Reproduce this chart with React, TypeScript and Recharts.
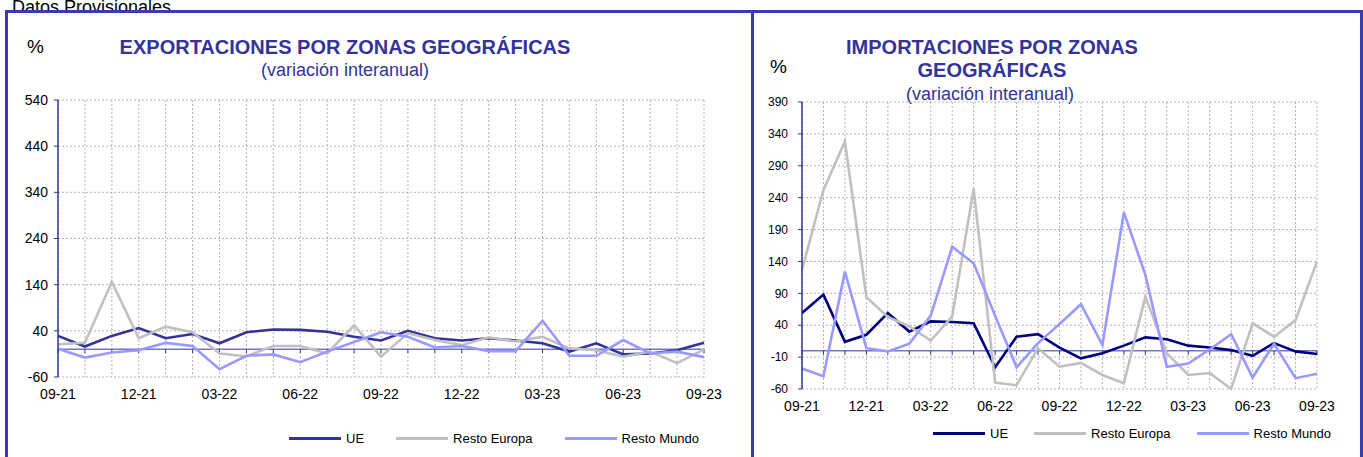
import { LineChart, Line, XAxis, YAxis, CartesianGrid, ReferenceLine } from "recharts";

const FONT = '"Liberation Sans", Arial, sans-serif';

const months = [
  "09-21", "10-21", "11-21", "12-21", "01-22", "02-22", "03-22", "04-22", "05-22",
  "06-22", "07-22", "08-22", "09-22", "10-22", "11-22", "12-22", "01-23", "02-23",
  "03-23", "04-23", "05-23", "06-23", "07-23", "08-23", "09-23",
];

// exportaciones (variación interanual, %)
const expUE = [29, 6, 29, 46, 24, 33, 13, 37, 43, 42, 38, 27, 19, 40, 24, 19, 24, 19, 13, -5, 13, -11, -9, -2, 14];
const expRestoEuropa = [11, 14, 146, 24, 49, 37, -9, -15, 7, 7, -9, 52, -16, 35, 20, 9, 26, 17, 27, 2, -2, -16, -5, -30, 0];
const expRestoMundo = [1, -18, -7, -2, 14, 7, -43, -14, -11, -28, -5, 16, 37, 27, 4, 7, -4, -4, 62, -14, -14, 20, -9, -5, -17];

// importaciones (variación interanual, %)
const impUE = [59, 88, 14, 25, 59, 30, 46, 45, 43, -26, 22, 26, 5, -12, -4, 8, 21, 18, 8, 5, 1, -8, 12, -1, -5];
const impRestoEuropa = [127, 252, 328, 84, 53, 38, 16, 54, 254, -50, -54, 4, -25, -19, -38, -51, 85, -4, -38, -35, -60, 43, 22, 48, 140];
const impRestoMundo = [-28, -40, 124, 4, -1, 11, 55, 163, 137, 55, -26, 12, 42, 73, 9, 217, 119, -25, -20, 2, 26, -42, 11, -43, -36];

const expTicks = [-60, 40, 140, 240, 340, 440, 540];
const impTicks = [-60, -10, 40, 90, 140, 190, 240, 290, 340, 390];

const expData = months.map((m, i) => ({ month: m, ue: expUE[i], re: expRestoEuropa[i], rm: expRestoMundo[i] }));
const impData = months.map((m, i) => ({ month: m, ue: impUE[i], re: impRestoEuropa[i], rm: impRestoMundo[i] }));

const expSeries = [
  { key: "ue", name: "UE", color: "#333399" },
  { key: "re", name: "Resto Europa", color: "#c0c0c0" },
  { key: "rm", name: "Resto Mundo", color: "#9999ff" },
];
const impSeries = [
  { key: "ue", name: "UE", color: "#000080" },
  { key: "re", name: "Resto Europa", color: "#c0c0c0" },
  { key: "rm", name: "Resto Mundo", color: "#9999ff" },
];

const AXIS_BLUE = "#333399";
const ZERO_BLUE = "#7575cc";
const TITLE_BLUE = "#333399";

const quarterLabel = (v: string, i: number) => (i % 3 === 0 ? v : "");

function Legend({ series, left, top, gap }: { series: any[]; left: number; top: number; gap: number }) {
  return (
    <div style={{ position: "absolute", left, top, display: "flex", alignItems: "center", fontFamily: FONT, fontSize: 13, color: "#000", whiteSpace: "nowrap" }}>
      {series.map((s) => (
        <div key={s.key} style={{ display: "flex", alignItems: "center", marginRight: gap }}>
          <span style={{ display: "inline-block", width: 52, height: 3, background: s.color, marginRight: 5 }} />
          <span>{s.name}</span>
        </div>
      ))}
    </div>
  );
}

function Panel({ data, series, ticks, domain, tickDown, width, height, margin, yWidth, yFont, xFont, yMargin, xMargin }: any) {
  return (
    <LineChart width={width} height={height} data={data} margin={margin}>
      <CartesianGrid stroke="#b4b4b4" strokeDasharray="2 2" />
      <XAxis
        dataKey="month"
        interval={0}
        axisLine={false}
        tickLine={false}
        tickSize={0}
        tickMargin={xMargin}
        tickFormatter={quarterLabel}
        tick={{ fill: "#000", fontSize: xFont, fontFamily: FONT }}
      />
      <YAxis
        type="number"
        domain={domain}
        ticks={ticks}
        interval={0}
        width={yWidth}
        axisLine={{ stroke: AXIS_BLUE, strokeWidth: 1.5 }}
        tickLine={{ stroke: AXIS_BLUE }}
        tickSize={4}
        tickMargin={yMargin}
        tick={{ fill: "#000", fontSize: yFont, fontFamily: FONT }}
      />
      <ReferenceLine y={0} stroke={ZERO_BLUE} strokeWidth={1.5} />
      {months.map((m) => (
        <ReferenceLine key={m} segment={[{ x: m, y: 0 }, { x: m, y: tickDown }]} stroke={AXIS_BLUE} strokeWidth={1} />
      ))}
      {series.map((s: any) => (
        <Line key={s.key} type="linear" dataKey={s.key} name={s.name} stroke={s.color} strokeWidth={2.6} dot={false} isAnimationActive={false} />
      ))}
    </LineChart>
  );
}

export default function App() {
  return (
    <div style={{ position: "absolute", left: 0, top: 0, width: 1363, height: 457, overflow: "hidden", background: "#fff", fontFamily: FONT }}>
      <div style={{ position: "absolute", left: 12, top: -2, fontSize: 18, lineHeight: "18px", color: "#000" }}>Datos Provisionales</div>
      <div style={{ position: "absolute", left: 5, top: 10, width: 1358, height: 470, boxSizing: "border-box", border: "3px solid #3b3ba9", background: "#fff" }} />
      <div style={{ position: "absolute", left: 751, top: 10, width: 3, height: 460, background: "#3b3ba9" }} />

      {/* exportaciones */}
      <div style={{ position: "absolute", left: 27, top: 37, fontSize: 19, lineHeight: "19px" }}>%</div>
      <div style={{ position: "absolute", left: 45, top: 37, width: 600, textAlign: "center", fontSize: 20, lineHeight: "20px", fontWeight: "bold", color: TITLE_BLUE }}>
        EXPORTACIONES POR ZONAS GEOGRÁFICAS
      </div>
      <div style={{ position: "absolute", left: 45, top: 61, width: 600, textAlign: "center", fontSize: 18, lineHeight: "18px", color: TITLE_BLUE }}>
        (variación interanual)
      </div>
      <div style={{ position: "absolute", left: 0, top: 0 }}>
        <Panel
          data={expData}
          series={expSeries}
          ticks={expTicks}
          domain={[-60, 540]}
          tickDown={-8}
          width={752}
          height={457}
          margin={{ top: 100, right: 48, left: 8, bottom: 50 }}
          yWidth={50}
          yFont={14}
          xFont={14}
          yMargin={6}
          xMargin={12}
        />
      </div>
      <Legend series={expSeries} left={289} top={431} gap={32} />

      {/* importaciones */}
      <div style={{ position: "absolute", left: 770, top: 57, fontSize: 19, lineHeight: "19px" }}>%</div>
      <div style={{ position: "absolute", left: 692, top: 36, width: 600, textAlign: "center", fontSize: 20, lineHeight: "23px", fontWeight: "bold", color: TITLE_BLUE }}>
        IMPORTACIONES POR ZONAS
        <br />
        GEOGRÁFICAS
      </div>
      <div style={{ position: "absolute", left: 690, top: 85, width: 600, textAlign: "center", fontSize: 18, lineHeight: "18px", color: TITLE_BLUE }}>
        (variación interanual)
      </div>
      <div style={{ position: "absolute", left: 752, top: 0 }}>
        <Panel
          data={impData}
          series={impSeries}
          ticks={impTicks}
          domain={[-60, 390]}
          tickDown={-6}
          width={611}
          height={457}
          margin={{ top: 102, right: 46, left: 10, bottom: 38 }}
          yWidth={40}
          yFont={12}
          xFont={14}
          yMargin={10}
          xMargin={12}
        />
      </div>
      <Legend series={impSeries} left={933} top={426} gap={26} />
    </div>
  );
}
